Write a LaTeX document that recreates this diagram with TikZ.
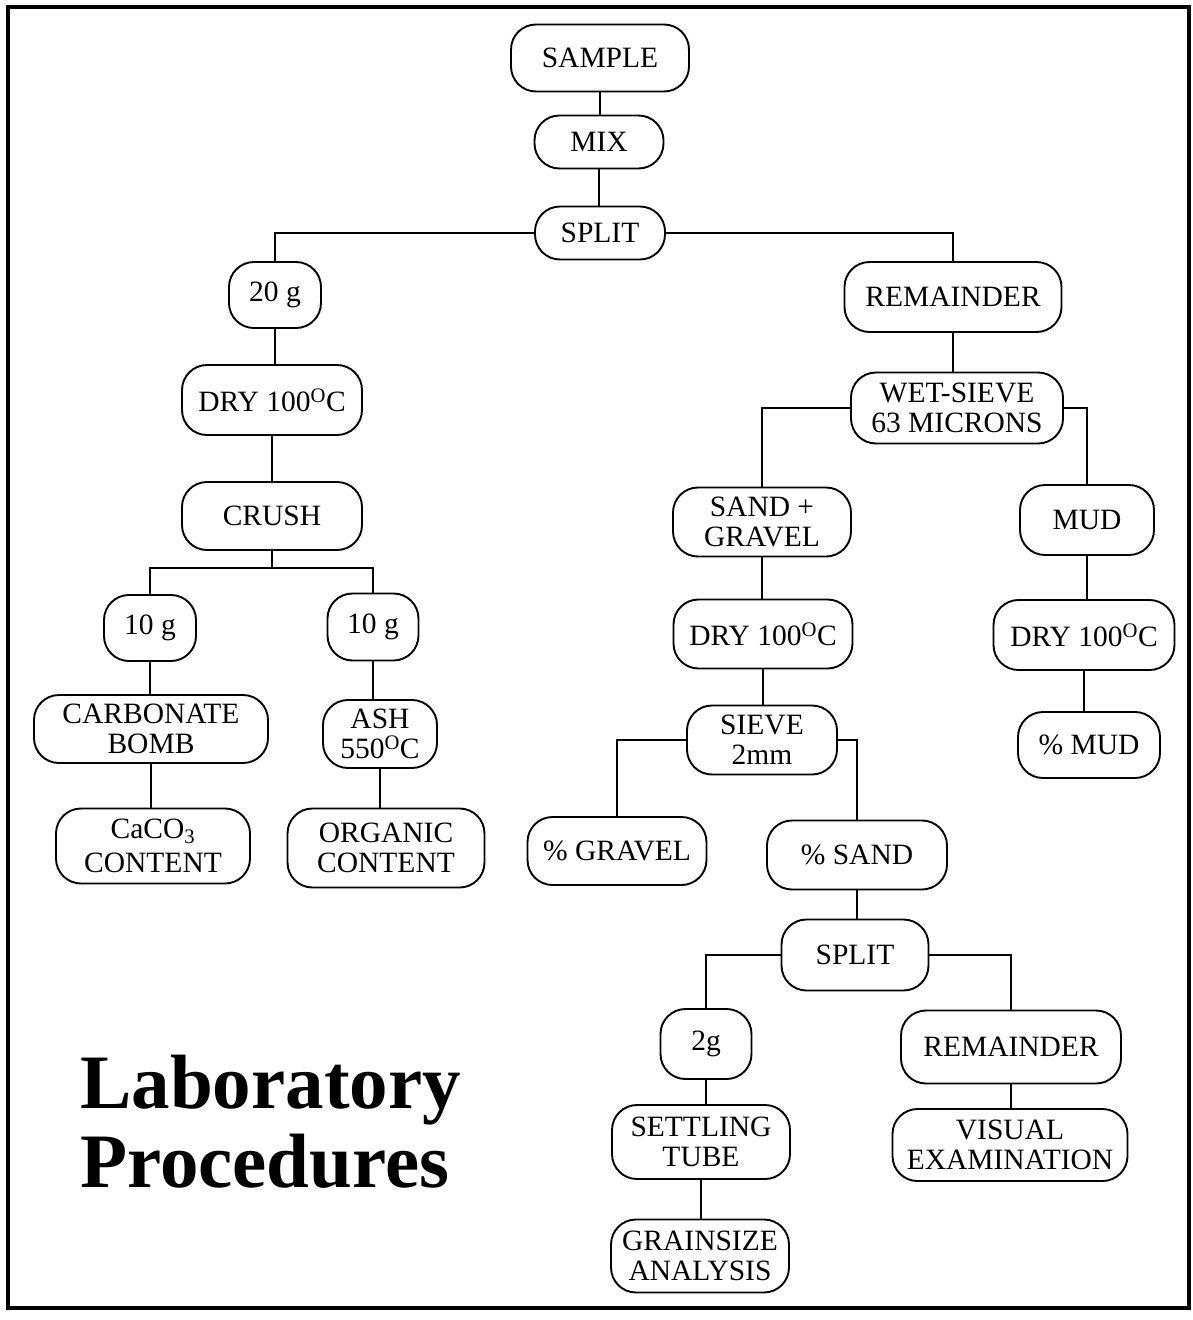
\documentclass[tikz,border=0pt]{standalone}
\usepackage{fontspec}
\setmainfont{Liberation Serif}
\begin{document}
\begin{tikzpicture}[x=1pt,y=-1pt,
  box/.style={draw, rounded corners=25pt, line width=1.9pt, inner sep=0pt, align=center,
              font=\fontsize{29.5}{30}\selectfont},
  conn/.style={line width=1.5pt},
  titlef/.style={anchor=base west, inner sep=0pt, font=\fontsize{77}{80}\selectfont\bfseries}]
\useasboundingbox (0,0) rectangle (1192,1320);
\draw[line width=3.5pt] (8,7) rectangle (1189,1308);

% top chain
\node[box, minimum width=178pt, minimum height=67pt] (sample) at (600,58) {SAMPLE};
\node[box, minimum width=129pt, minimum height=53pt] (mix) at (599,142) {MIX};
\node[box, minimum width=130pt, minimum height=53pt] (split) at (600,233) {SPLIT};

% left branch
\node[box, minimum width=92pt, minimum height=66pt] (g20) at (275,295) {20 g};
\node[box, minimum width=180pt, minimum height=70pt] (dryL) at (272,400) {DRY 100\textsuperscript{O}C};
\node[box, minimum width=180pt, minimum height=68pt] (crush) at (272,516) {CRUSH};
\node[box, minimum width=92pt, minimum height=66pt] (g10a) at (150,628) {10 g};
\node[box, minimum width=91pt, minimum height=67pt] (g10b) at (373,627) {10 g};
\node[box, minimum width=234pt, minimum height=68pt] (carb) at (151,729) {CARBONATE\\BOMB};
\node[box, minimum width=114pt, minimum height=68pt] (ash) at (380,734) {ASH\\550\textsuperscript{O}C};
\node[box, minimum width=194pt, minimum height=75pt] (caco) at (153,846) {CaCO\textsubscript{3}\\[4pt]CONTENT};
\node[box, minimum width=197pt, minimum height=79pt] (org) at (386,848) {ORGANIC\\CONTENT};

% right branch
\node[box, minimum width=217pt, minimum height=70pt] (rem) at (953,297) {REMAINDER};
\node[box, minimum width=212pt, minimum height=71pt] (wet) at (957,408) {WET-SIEVE\\63 MICRONS};
\node[box, minimum width=178pt, minimum height=69pt] (sg) at (762,522) {SAND +\\GRAVEL};
\node[box, minimum width=134pt, minimum height=70pt] (mud) at (1087,520) {MUD};
\node[box, minimum width=181pt, minimum height=70pt] (dryM) at (1084,635) {DRY 100\textsuperscript{O}C};
\node[box, minimum width=142pt, minimum height=66pt] (pmud) at (1089,745) {\% MUD};
\node[box, minimum width=179pt, minimum height=69pt] (dryS) at (763,634) {DRY 100\textsuperscript{O}C};
\node[box, minimum width=150pt, minimum height=69pt] (sieve) at (762,740) {SIEVE\\2mm};
\node[box, minimum width=179pt, minimum height=68pt] (pgrav) at (617,851) {\% GRAVEL};
\node[box, minimum width=180pt, minimum height=69pt] (psand) at (857,855) {\% SAND};
\node[box, minimum width=147pt, minimum height=71pt] (split2) at (855,955) {SPLIT};
\node[box, minimum width=91pt, minimum height=70pt] (g2) at (706,1044) {2g};
\node[box, minimum width=220pt, minimum height=73pt] (rem2) at (1011,1047) {REMAINDER};
\node[box, minimum width=178pt, minimum height=74pt] (settle) at (701,1142) {SETTLING\\TUBE};
\node[box, minimum width=235pt, minimum height=72pt] (visual) at (1010,1145) {VISUAL\\EXAMINATION};
\node[box, minimum width=178pt, minimum height=73pt] (grain) at (700,1256) {GRAINSIZE\\ANALYSIS};

% title
\node[titlef] (t1) at (80,1108) {Laboratory};
\node[titlef] (t2) at (80,1187) {Procedures};

% connectors
\draw[conn] (sample.south) -- (sample.south |- mix.north);
\draw[conn] (mix.south) -- (mix.south |- split.north);
\draw[conn] (split.west) -| (g20.north);
\draw[conn] (split.east) -| (rem.north);
\draw[conn] (g20.south) -- (g20.south |- dryL.north);
\draw[conn] (dryL.south) -- (dryL.south |- crush.north);
\draw[conn] (crush.south) -- ++(0,17) -| (g10a.north);
\draw[conn] (crush.south) ++(0,17) -| (g10b.north);
\draw[conn] (g10a.south) -- (g10a.south |- carb.north);
\draw[conn] (carb.south) -- (carb.south |- caco.north);
\draw[conn] (g10b.south) -- (g10b.south |- ash.north);
\draw[conn] (ash.south) -- (ash.south |- org.north);

\draw[conn] (rem.south) -- (rem.south |- wet.north);
\draw[conn] (wet.west) -| (sg.north);
\draw[conn] (wet.east) -| (mud.north);
\draw[conn] (mud.south) -- (mud.south |- dryM.north);
\draw[conn] (dryM.south) -- (dryM.south |- pmud.north);
\draw[conn] (sg.south) -- (sg.south |- dryS.north);
\draw[conn] (dryS.south) -- (dryS.south |- sieve.north);
\draw[conn] (sieve.west) -| (pgrav.north);
\draw[conn] (sieve.east) -| (psand.north);
\draw[conn] (psand.south) -- (psand.south |- split2.north);
\draw[conn] (split2.west) -| (g2.north);
\draw[conn] (split2.east) -| (rem2.north);
\draw[conn] (g2.south) -- (g2.south |- settle.north);
\draw[conn] (settle.south) -- (settle.south |- grain.north);
\draw[conn] (rem2.south) -- (rem2.south |- visual.north);
\end{tikzpicture}
\end{document}
